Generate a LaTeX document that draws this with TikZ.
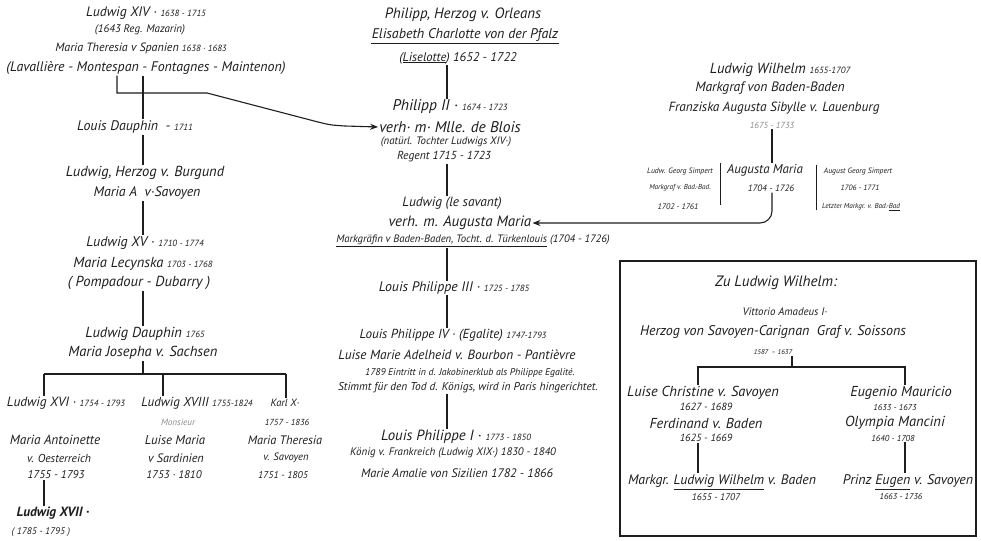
\documentclass[tikz,border=0pt]{standalone}
\usepackage{fontspec}
\setmainfont{PT Sans}
\usetikzlibrary{arrows.meta}
\definecolor{ink}{HTML}{1E1E1E}
\definecolor{faint}{HTML}{8A8A8A}
\newcommand\smdt[1]{{\fontsize{9}{9}\selectfont #1}}
\tikzset{
  every node/.style={inner sep=1pt, text=ink},
  sz/.style={font=\fontsize{#1}{#1}\selectfont\itshape},
  ln/.style={draw=ink, line width=1.1pt},
  thin/.style={draw=ink, line width=0.7pt},
  arr/.style={ln, -{Stealth[length=8pt,width=6pt]}},
}
\begin{document}
\begin{tikzpicture}[x=1pt,y=-1pt]
\useasboundingbox[fill=white] (0,0) rectangle (981,540);
% column coordinates
\coordinate (cL) at (143,0);
\coordinate (cLa) at (117,0);
\coordinate (cM) at (447,0);
\coordinate (cR) at (772,0);
% ---------------- left column
\node[sz=13.7] (n1) at (146,13) {Ludwig XIV · \smdt{1638 - 1715}};
\node[sz=11] (n2) at (140,30) {(1643 Reg. Mazarin)};
\node[sz=12] (n3) at (141,48) {Maria Theresia v Spanien \smdt{1638 · 1683}};
\node[sz=13.9] (n4) at (146,68) {(Lavallière - Montespan - Fontagnes - Maintenon)};
\node[sz=13.9] (n5) at (135,127) {Louis Dauphin \ - \smdt{1711}};
\node[sz=14.5] (n6) at (145,173) {Ludwig, Herzog v. Burgund};
\node[sz=13.9] (n7) at (147,193) {Maria A \ v·Savoyen};
\node[sz=14] (n8) at (145,243) {Ludwig XV · \smdt{1710 - 1774}};
\node[sz=14.5] (n9) at (143,264) {Maria Lecynska \smdt{1703 - 1768}};
\node[sz=14.5] (n10) at (139,283) {( Pompadour - Dubarry )};
\node[sz=14.5] (n11) at (145,334) {Ludwig Dauphin \smdt{1765}};
\node[sz=14.5] (n12) at (143,353) {Maria Josepha v. Sachsen};
\node[sz=13.4] (n13) at (66,403) {Ludwig XVI · \smdt{1754 - 1793}};
\node[sz=13] (n14) at (197,403) {Ludwig XVIII \smdt{1755-1824}};
\node[sz=9.1,text=faint] (n15) at (178,422) {Monsieur};
\node[sz=10.5] (n16) at (285,403) {Karl X·};
\node[sz=8.8] (n17) at (287,422) {1757 - 1836};
\node[sz=13.3] (n18) at (55,440) {Maria Antoinette};
\node[sz=11.5] (n19) at (59,458) {v. Oesterreich};
\node[sz=11.3] (n20) at (56,475) {1755 - 1793};
\node[sz=12.8] (n21) at (175,440) {Luise Maria};
\node[sz=12.2] (n22) at (176,458) {v Sardinien};
\node[sz=11.1] (n23) at (174,475) {1753 · 1810};
\node[sz=12.3] (n24) at (285,440) {Maria Theresia};
\node[sz=10.6] (n25) at (286,458) {v. Savoyen};
\node[sz=9.9] (n26) at (283,475) {1751 - 1805};
\node[font=\fontsize{13.4}{13.4}\selectfont\itshape\bfseries] (n27) at (53,513) {Ludwig XVII ·};
\node[sz=9.6] (n28) at (41,532) {( 1785 - 1795 )};
% connectors left
\coordinate (j1) at (117,93);
\coordinate (j2) at (207,93);
\coordinate (j3) at (318,122);
\coordinate (j4) at (345,126);
\draw[ln] (cL |- n4.south) -- (cL |- n5.north);
\draw[ln] (cL |- n5.south) -- (cL |- n6.north);
\draw[ln] (cL |- n7.south) -- (cL |- n8.north);
\draw[ln] (cL |- n10.south) -- (cL |- n11.north);
\coordinate (bar1) at (143,374);
\coordinate (bl) at (44,374);
\coordinate (bm) at (163,374);
\coordinate (br) at (286,374);
\draw[ln] (cL |- n12.south) -- (bar1);
\draw[ln] (bl) -- (br);
\draw[ln] (bl) -- (bl |- n13.north);
\draw[ln] (bm) -- (bm |- n14.north);
\draw[ln] (br) -- (br |- n16.north);
\draw[ln] (bl |- n20.south) -- (bl |- n27.north);
% ---------------- middle column
\node[sz=14.9] (m1) at (463,15) {Philipp, Herzog v. Orleans};
\node[sz=14] (m2) at (465,35) {Elisabeth Charlotte von der Pfalz};
\draw[ln] ([yshift=-1pt]m2.south west) -- ([yshift=-1pt]m2.south east);
\node[sz=12.6] (m3) at (458,58) {(\underline{Liselotte}) 1652 - 1722};
\node[sz=15.5] (m4) at (450,107) {Philipp II · \smdt{1674 - 1723}};
\node[sz=15.5] (m5) at (450,127) {verh· m· Mlle. de Blois};
\node[sz=10.8] (m6) at (446,142) {(natürl. Tochter Ludwigs XIV·)};
\node[sz=11.6] (m7) at (444,157) {Regent 1715 - 1723};
\node[sz=13.4] (m8) at (452,203) {Ludwig (le savant)};
\node[sz=15] (m9) at (460,223) {verh. m. Augusta Maria};
\node[sz=10.7] (m10) at (473,241) {\underline{Markgräfin v Baden-Baden, Tocht. d. Türkenlouis} (1704 - 1726)};
\node[sz=13.8] (m11) at (454,288) {Louis Philippe III · \smdt{1725 - 1785}};
\node[sz=13.1] (m12) at (453,335) {Louis Philippe IV · (Egalite) \smdt{1747-1793}};
\node[sz=13.3] (m13) at (457,355) {Luise Marie Adelheid v. Bourbon - Pantièvre};
\node[sz=9.8] (m14) at (470,373) {1789 Eintritt in d. Jakobinerklub als Philippe Egalité.};
\node[sz=11.4] (m15) at (468,388) {Stimmt für den Tod d. Königs, wird in Paris hingerichtet.};
\node[sz=14.8] (m16) at (456,437) {Louis Philippe I · \smdt{1773 - 1850}};
\node[sz=10.9] (m17) at (453,453) {König v. Frankreich (Ludwig XIX·) 1830 - 1840};
\node[sz=12.3] (m18) at (457,473) {Marie Amalie von Sizilien 1782 - 1866};
\draw[ln] (cM |- m3.south) -- (cM |- m4.north);
\draw[ln] (cM |- m7.south) -- (cM |- m8.north);
\draw[ln] (cM |- m10.south) -- (cM |- m11.north);
\draw[ln] (cM |- m11.south) -- (cM |- m12.north);
\draw[ln] (cM |- m15.south) -- (cM |- m16.north);
% arrow from Ludwig XIV to Philipp II
\draw[arr] (cLa |- n4.south) -- (j1) -- (j2) -- (j3) .. controls (330,125) .. (j4) -- (m5.west);
% ---------------- right top
\node[sz=14.6] (r1) at (780,70) {Ludwig Wilhelm \smdt{1655-1707}};
\node[sz=13.6] (r2) at (770,88) {Markgraf von Baden-Baden};
\node[sz=13.3] (r3) at (774,108) {Franziska Augusta Sibylle v. Lauenburg};
\node[sz=8.8,text=faint] (r4) at (772,125) {1675 - 1733};
\node[sz=12.9] (r5) at (765,170) {Augusta Maria};
\node[sz=9.2] (r6) at (771,188) {1704 - 1726};
\node[sz=7.7] (r7) at (680,172) {Ludw. Georg Simpert};
\node[sz=7.2] (r8) at (680,188) {Markgraf v. Bad.-Bad.};
\node[sz=8.1] (r9) at (678,207) {1702 - 1761};
\node[sz=7.7] (r10) at (858,172) {August Georg Simpert};
\node[sz=7.7] (r11) at (860,188) {1706 - 1771};
\node[sz=7.2] (r12) at (861,207) {Letzter Markgr. v. Bad.-\underline{Bad}};
\draw[ln] (cR |- r4.south) -- (cR |- r5.north);
\coordinate (s1a) at (720,163);
\coordinate (s1b) at (720,205);
\coordinate (s2a) at (816,165);
\coordinate (s2b) at (816,210);
\draw[thin] (s1a) -- (s1b);
\draw[thin] (s2a) -- (s2b);
\coordinate (k1) at (772,223);
\draw[arr, rounded corners=12pt] (cR |- r6.south) -- (k1) -- (m9.east);
% ---------------- box
\coordinate (boxa) at (620,261);
\coordinate (boxb) at (976,536);
\draw[ln] (boxa) rectangle (boxb);
\node[sz=15] (b1) at (776,283) {Zu Ludwig Wilhelm:};
\node[sz=10.9] (b2) at (785,312) {Vittorio Amadeus I·};
\node[sz=14] (b3) at (773,332) {Herzog von Savoyen-Carignan \ Graf v. Soissons};
\node[sz=7] (b4) at (773,352) {1587 \,– 1637};
\node[sz=14.4] (b5) at (703,393) {Luise Christine v. Savoyen};
\node[sz=10.4] (b6) at (706,407) {1627 - 1689};
\node[sz=14.4] (b7) at (706,423) {Ferdinand v. Baden};
\node[sz=10.4] (b8) at (706,438) {1625 - 1669};
\node[sz=13.8] (b9) at (722,482) {Markgr. \underline{Ludwig Wilhelm} v. Baden};
\node[sz=9.6] (b10) at (716,497) {1655 - 1707};
\node[sz=14.4] (b11) at (901,393) {Eugenio Mauricio};
\node[sz=8.6] (b12) at (895,407) {1633 - 1673};
\node[sz=14.5] (b13) at (895,423) {Olympia Mancini};
\node[sz=8.6] (b14) at (893,438) {1640 - 1708};
\node[sz=13.9] (b15) at (908,482) {Prinz \underline{Eugen} v. Savoyen};
\node[sz=8.5] (b16) at (901,497) {1663 - 1736};
\coordinate (cB) at (792,0);
\coordinate (bbl) at (698,367);
\coordinate (bbr) at (905,367);
\draw[ln] (cB |- b4.south) -- (cB |- bbl);
\draw[ln] (bbl |- b5.north) -- (bbl) -- (bbr) -- (bbr |- b11.north);
\draw[ln] (bbl |- b8.south) -- (bbl |- b9.north);
\draw[ln] (bbr |- b14.south) -- (bbr |- b15.north);
\end{tikzpicture}
\end{document}
